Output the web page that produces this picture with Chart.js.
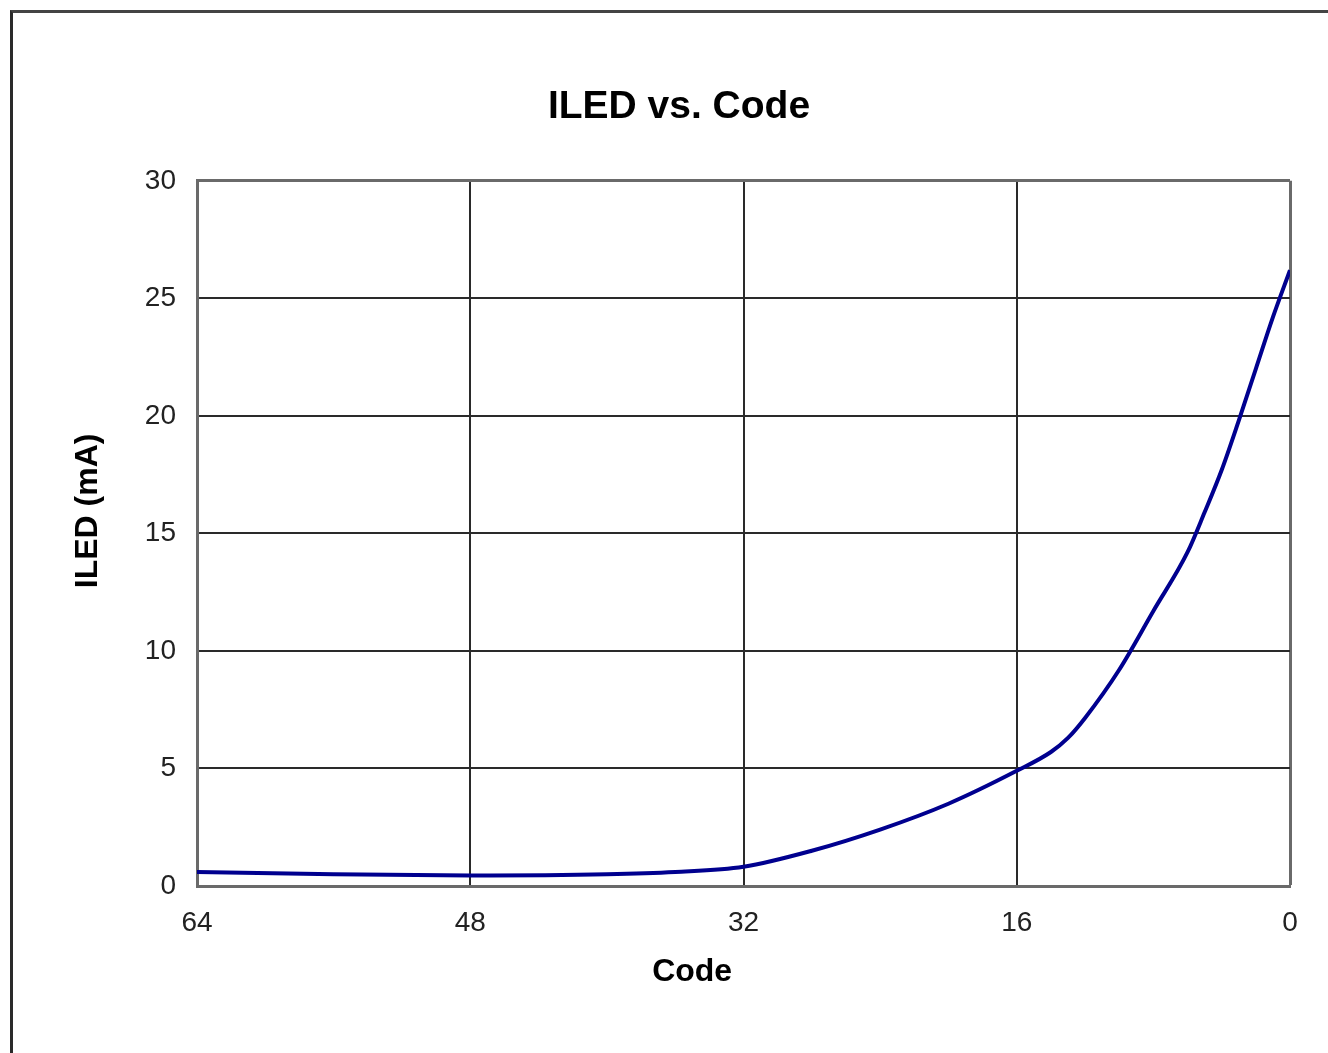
<!DOCTYPE html>
<html>
<head>
<meta charset="utf-8">
<script src="https://cdn.jsdelivr.net/npm/chart.js@4.4.1/dist/chart.umd.min.js"></script>
<style>
  html, body { margin: 0; padding: 0; background: #fff; }
  body { width: 1328px; height: 1053px; position: relative; overflow: hidden; }
  #frame { position: absolute; left: 10px; top: 10px; width: 1400px; height: 1040px;
           border-left: 3px solid #2a2a2a; border-top: 3px solid #444; border-bottom: 1px solid #eaeaea; }
  #wrap { position: absolute; left: 0; top: 0; width: 1328px; height: 1053px; }
</style>
</head>
<body>
<div id="frame"></div>
<div id="wrap"><canvas id="c" width="1328" height="1053"></canvas></div>
<script>
// Data
const codes = [64, 56, 48, 40, 36, 32, 28, 24, 20, 16, 14, 13, 12, 10, 8, 6, 5, 4, 3, 2, 1, 0];
const iled  = [0.60, 0.50, 0.45, 0.50, 0.60, 0.82, 1.50, 2.40, 3.50, 4.90, 5.70, 6.30, 7.15, 9.20, 11.70, 14.20, 15.90, 17.70, 19.80, 22.00, 24.20, 26.20];
const xTicks = [64, 48, 32, 16, 0];
const yTicks = [0, 5, 10, 15, 20, 25, 30];
const xTitle = 'Code';
const yTitle = 'ILED (mA)';

const FONT = '"Liberation Sans", Arial, Helvetica, sans-serif';
const points = codes.map((c, i) => ({ x: c, y: iled[i] }));

// Axis titles placed where the reference has them (slightly off-centre)
const axisTitles = {
  id: 'axisTitles',
  afterDraw(chart) {
    const ctx = chart.ctx;
    const area = chart.chartArea;
    ctx.save();
    ctx.fillStyle = '#000';
    ctx.font = 'bold 32px ' + FONT;
    ctx.textAlign = 'center';
    ctx.textBaseline = 'middle';
    ctx.fillText(xTitle, area.left + (area.right - area.left) * 0.453, 972);
    ctx.translate(88, area.top + (area.bottom - area.top) * 0.468);
    ctx.rotate(-Math.PI / 2);
    ctx.fillText(yTitle, 0, 0);
    ctx.restore();
  }
};

new Chart(document.getElementById('c'), {
  type: 'line',
  data: {
    datasets: [{
      data: points,
      borderColor: '#00008f',
      borderWidth: 4,
      pointRadius: 0,
      fill: false,
      cubicInterpolationMode: 'monotone'
    }]
  },
  options: {
    responsive: false,
    animation: false,
    layout: { padding: { left: 68, right: 38, top: 0, bottom: 0 } },
    plugins: {
      legend: { display: false },
      tooltip: { enabled: false },
      title: {
        display: true,
        text: 'ILED vs. Code',
        color: '#000',
        font: { family: FONT, size: 39, weight: 'bold', lineHeight: 1.2 },
        padding: { top: 84, bottom: 50 }
      }
    },
    scales: {
      x: {
        type: 'linear',
        min: 0, max: 64,
        reverse: true,
        afterBuildTicks: (s) => { s.ticks = xTicks.map(v => ({ value: v })); },
        afterFit: (s) => { s.height = 167; },
        ticks: { color: '#222', font: { family: FONT, size: 28 }, padding: 20, maxRotation: 0, autoSkip: false },
        grid: {
          drawTicks: false,
          color: (ctx) => (ctx.tick && ctx.tick.value === 0) ? '#6a6a6a' : '#2a2a2a',
          lineWidth: (ctx) => (ctx.tick && ctx.tick.value === 0) ? 3 : 2
        },
        border: { display: true, color: '#6a6a6a', width: 3 },
        title: { display: false }
      },
      y: {
        type: 'linear',
        min: 0, max: 30,
        afterBuildTicks: (s) => { s.ticks = yTicks.map(v => ({ value: v })); },
        afterFit: (s) => { s.width = 129; },
        ticks: { color: '#222', font: { family: FONT, size: 28 }, padding: 21 },
        grid: {
          drawTicks: false,
          color: (ctx) => (ctx.tick && ctx.tick.value === 30) ? '#6a6a6a' : '#2a2a2a',
          lineWidth: (ctx) => (ctx.tick && ctx.tick.value === 30) ? 3 : 2
        },
        border: { display: true, color: '#6a6a6a', width: 3 },
        title: { display: false }
      }
    }
  },
  plugins: [axisTitles]
});
</script>
</body>
</html>
